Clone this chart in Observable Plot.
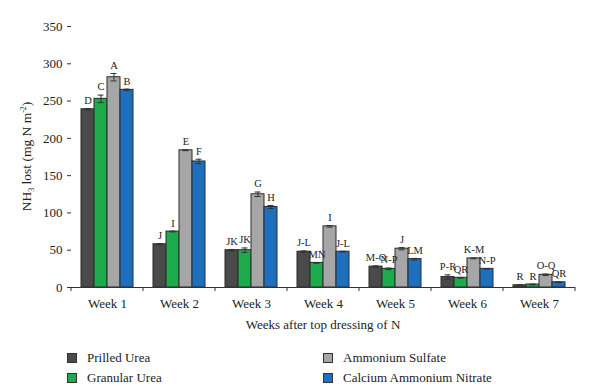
<!DOCTYPE html>
<html>
<head>
<meta charset="utf-8">
<script src="https://cdn.jsdelivr.net/npm/d3@7"></script>
<script src="https://cdn.jsdelivr.net/npm/@observablehq/plot@0.6"></script>
<style>
  body { margin: 0; background: #fff; font-family: "Liberation Serif", "DejaVu Serif", serif; }
  #wrap { width: 600px; }
  .legend { display: grid; grid-template-columns: 256px 256px; padding: 8px 0 0 67px; font-size: 13px; color: #222; }
  .item { height: 20px; display: flex; align-items: center; }
  .sw { width: 8px; height: 8px; border: 1px solid #333; margin-right: 10px; }
</style>
</head>
<body>
<div id="wrap"></div>
<script>
const weeks = ["Week 1","Week 2","Week 3","Week 4","Week 5","Week 6","Week 7"];
const fertilizers = ["Prilled Urea","Granular Urea","Ammonium Sulfate","Calcium Ammonium Nitrate"];
const colors = ["#4a4a4a","#1cab4c","#a6a6a6","#1f6fbf"];

const prilled  = [239, 58, 50, 48, 28, 14, 3];
const granular = [253, 75, 50, 33, 25, 13, 4];
const sulfate  = [282, 184, 125, 82, 52, 39, 17];
const can      = [265, 169, 108, 48, 38, 25, 7];

const prilledErr  = [1, 1, 1, 1, 1, 3, 0.5];
const granularErr = [5, 0.5, 3, 0.5, 1, 0.5, 0.5];
const sulfateErr  = [5, 0.5, 3, 1, 1.5, 0.5, 1];
const canErr      = [1, 3, 2, 0.5, 1, 0.5, 0.5];

const prilledL  = ["D","J","JK","J-L","M-O","P-R","R"];
const granularL = ["C","I","JK","MN","N-P","QR","R"];
const sulfateL  = ["A","E","G","I","J","K-M","O-Q"];
const canL      = ["B","F","H","J-L","LM","N-P","QR"];

const yTicks = [0, 50, 100, 150, 200, 250, 300, 350];

const series = [
  [prilled, prilledErr, prilledL],
  [granular, granularErr, granularL],
  [sulfate, sulfateErr, sulfateL],
  [can, canErr, canL]
];
const rows = [];
weeks.forEach((w, i) => {
  fertilizers.forEach((f, j) => {
    const [v, e, l] = series[j];
    rows.push({week: w, fert: f, value: v[i], lo: v[i] - e[i], hi: v[i] + e[i], letter: l[i]});
  });
});

const chart = Plot.plot({
  width: 600, height: 340,
  marginLeft: 68, marginRight: 22, marginTop: 26, marginBottom: 53,
  style: {fontFamily: "Liberation Serif, DejaVu Serif, serif", fontSize: "13px", color: "#222", background: "#fff"},
  fx: {domain: weeks, padding: 0, label: null},
  x: {domain: fertilizers, paddingInner: 0, paddingOuter: 0.75, axis: null},
  y: {domain: [0, 350], label: null},
  color: {domain: fertilizers, range: colors},
  marks: [
    Plot.axisY({ticks: yTicks, tickSize: 4, tickPadding: 5, line: true, label: null, stroke: "#333"}),
    Plot.axisFx({tickSize: 0, tickPadding: 11, label: null, anchor: "bottom"}),
    Plot.barY(rows, {fx: "week", x: "fert", y: "value", fill: "fert", stroke: "#2a2a2a", strokeWidth: 1}),
    Plot.ruleX(rows, {fx: "week", x: "fert", y1: "lo", y2: "hi", stroke: "#333", strokeWidth: 1}),
    Plot.tickY(rows, {fx: "week", x: "fert", y: "hi", stroke: "#333", insetLeft: 3.5, insetRight: 3.5}),
    Plot.tickY(rows, {fx: "week", x: "fert", y: "lo", stroke: "#333", insetLeft: 3.5, insetRight: 3.5}),
    Plot.ruleY([0], {stroke: "#333", strokeWidth: 1.2}),
    Plot.text(rows, {fx: "week", x: "fert", y: "hi", text: "letter", dy: -8, fontSize: 10.5, fill: "#222"})
  ]
});

// boundary ticks and axis titles from the library's scales
const svg = d3.select(chart);
const fx = chart.scale("fx");
const ys = chart.scale("y");
const y0 = ys.apply(0);
const bounds = weeks.map(w => fx.apply(w)).concat([fx.apply(weeks[weeks.length - 1]) + fx.bandwidth]);
svg.append("g").selectAll("line").data(bounds).join("line")
  .attr("x1", d => d).attr("x2", d => d)
  .attr("y1", y0).attr("y2", y0 + 4)
  .attr("stroke", "#333");

const xMid = (bounds[0] + bounds[bounds.length - 1]) / 2;
svg.append("text")
  .attr("x", xMid).attr("y", y0 + 42)
  .attr("text-anchor", "middle")
  .attr("font-size", 13).attr("fill", "#222")
  .text("Weeks after top dressing of N");

const yMid = (ys.apply(0) + ys.apply(350)) / 2;
const yl = svg.append("text")
  .attr("transform", `translate(31,${yMid}) rotate(-90)`)
  .attr("text-anchor", "middle")
  .attr("font-size", 13.5).attr("fill", "#222");
yl.append("tspan").text("NH");
yl.append("tspan").attr("font-size", 8).attr("dy", 3).text("3");
yl.append("tspan").attr("dy", -3).text(" lost (mg N m");
yl.append("tspan").attr("font-size", 8).attr("dy", -5).text("-2");
yl.append("tspan").attr("dy", 5).text(")");

const wrap = document.getElementById("wrap");
wrap.appendChild(chart);

const legend = document.createElement("div");
legend.className = "legend";
const order = [0, 2, 1, 3];
order.forEach(i => {
  const it = document.createElement("div");
  it.className = "item";
  const sw = document.createElement("span");
  sw.className = "sw";
  sw.style.background = colors[i];
  it.appendChild(sw);
  const t = document.createElement("span");
  t.textContent = fertilizers[i];
  it.appendChild(t);
  legend.appendChild(it);
});
wrap.appendChild(legend);
</script>
</body>
</html>
